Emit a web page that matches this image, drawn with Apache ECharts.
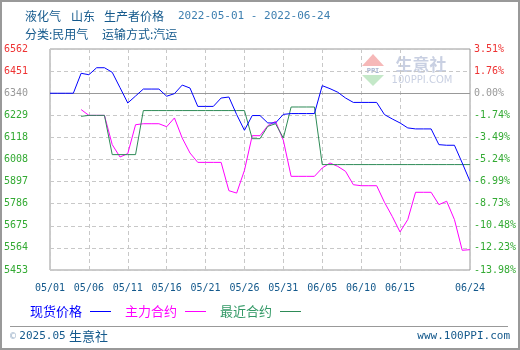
<!DOCTYPE html>
<html><head><meta charset="utf-8">
<script src="https://cdn.jsdelivr.net/npm/echarts@6/dist/echarts.min.js"></script>
<style>html,body{margin:0;padding:0;background:#fff}#c{width:520px;height:350px}</style>
</head><body><div id="c"></div>
<script>
const dates = ['05/01','05/02','05/03','05/04','05/05','05/06','05/07','05/08','05/09','05/10',
  '05/11','05/12','05/13','05/14','05/15','05/16','05/17','05/18','05/19','05/20',
  '05/21','05/22','05/23','05/24','05/25','05/26','05/27','05/28','05/29','05/30','05/31',
  '06/01','06/02','06/03','06/04','06/05','06/06','06/07','06/08','06/09','06/10',
  '06/11','06/12','06/13','06/14','06/15','06/16','06/17','06/18','06/19','06/20',
  '06/21','06/22','06/23','06/24'];
const spotPrice = [6340,6340,6340,6340,6440,6433,6468,6468,6445,6368,
  6291,6326,6361,6361,6361,6325,6338,6381,6366,6274,
  6274,6274,6316,6321,6233,6154,6228,6228,6191,6191,
  6234,6238,6238,6238,6238,6378,6363,6345,6316,6294,
  6294,6294,6294,6233,6211,6191,6166,6161,6161,6161,
  6082,6079,6079,5990,5898];
const mainContract = [null,null,null,null,6258,6229,6229,6229,6082,6020,
  6037,6182,6187,6187,6187,6172,6216,6115,6040,5993,
  5993,5993,5993,5851,5839,5953,6127,6127,6177,6199,
  6104,5923,5923,5923,5923,5965,5990,5973,5948,5881,
  5876,5876,5876,5793,5722,5644,5706,5843,5843,5843,
  5781,5798,5706,5552,5555];
const nearContract = [null,null,null,null,6224,6229,6229,6229,6032,6032,
  6032,6032,6253,6253,6253,6253,6253,6253,6253,6253,
  6253,6253,6253,6253,6253,6253,6112,6112,6174,6187,
  6115,6271,6271,6271,6271,5982,5982,5982,5982,5982,
  5982,5982,5982,5982,5982,5982,5982,5982,5982,5982,
  5982,5982,5982,5982,5982];
const xTickLabels = ['05/01','05/06','05/11','05/16','05/21','05/26','05/31','06/05','06/10','06/15','06/24'];
const yTickLabels = ['5453','5564','5675','5786','5897','6008','6118','6229','6340','6451','6562'];
const pctTickLabels = ['-13.98%','-12.23%','-10.48%','-8.73%','-6.99%','-5.24%','-3.49%','-1.74%','0.00%','1.76%','3.51%'];
const seriesNames = ['现货价格','主力合约','最近合约'];
const basePrice = 6340;
const yMin = 5453, yMax = 6562;

const C_BLUE = '#0000ff', C_PINK = '#ff00ff', C_GREEN = '#2e8b57';
const C_TEXT = '#14598c';
const MONO = '"DejaVu Sans Mono", monospace';
const CJK = '"Noto Sans CJK SC", sans-serif';

function tickColor(i) {
  const v = Number(yTickLabels[i]);
  if (v > basePrice) return '#ee3333';
  if (v === basePrice) return '#999999';
  return '#33aa33';
}
const showX = (idx, val) => xTickLabels.indexOf(dates[idx]) >= 0;

const chart = echarts.init(document.getElementById('c'), null, {renderer: 'canvas'});
const yCommon = {
  type: 'value', min: yMin, max: yMax, interval: (yMax - yMin) / 10,
  axisLine: {show: false}, axisTick: {show: false}
};
chart.setOption({
  animation: false,
  grid: {left: 50, top: 49, width: 420, height: 221, show: true, borderColor: '#999', borderWidth: 1, backgroundColor: 'transparent'},
  xAxis: {
    type: 'category', data: dates, boundaryGap: false,
    axisLine: {show: false}, axisTick: {show: false},
    axisLabel: {interval: showX, color: C_TEXT, fontFamily: MONO, fontSize: 10, margin: 13},
    splitLine: {show: true, interval: showX, lineStyle: {color: '#c8c8c8', type: [4, 3], width: 1}}
  },
  yAxis: [
    Object.assign({}, yCommon, {
      position: 'left',
      axisLabel: {formatter: (v, i) => yTickLabels[i], color: (v, i) => tickColor(i), fontFamily: MONO, fontSize: 10, margin: 22, align: 'right'},
      splitLine: {show: true, lineStyle: {color: '#c8c8c8', type: [4, 3], width: 1}}
    }),
    Object.assign({}, yCommon, {
      position: 'right',
      axisLabel: {formatter: (v, i) => pctTickLabels[i], color: (v, i) => tickColor(i), fontFamily: MONO, fontSize: 10, margin: 4, align: 'left'},
      splitLine: {show: false}
    })
  ],
  legend: {
    left: 25, top: 300, align: 'right', icon: 'rect', itemWidth: 21, itemHeight: 1, itemGap: 14,
    textStyle: {fontFamily: CJK, fontSize: 13, padding: [0, 3, 0, 0]},
    data: [
      {name: seriesNames[0], textStyle: {color: C_BLUE}},
      {name: seriesNames[1], textStyle: {color: C_PINK}},
      {name: seriesNames[2], textStyle: {color: '#339966'}}
    ]
  },
  series: [
    {name: seriesNames[1], type: 'line', data: mainContract, showSymbol: false, symbol: 'none', z: 2,
     color: C_PINK, lineStyle: {color: C_PINK, width: 1}},
    {name: seriesNames[2], type: 'line', data: nearContract, showSymbol: false, symbol: 'none', z: 3,
     color: C_GREEN, lineStyle: {color: C_GREEN, width: 1}},
    {name: seriesNames[0], type: 'line', data: spotPrice, showSymbol: false, symbol: 'none', z: 4,
     color: C_BLUE, lineStyle: {color: C_BLUE, width: 1},
     markLine: {silent: true, symbol: 'none', label: {show: false}, z: 1,
       lineStyle: {color: '#999', type: 'solid', width: 1}, data: [{yAxis: basePrice}]}}
  ],
  graphic: [
    {type: 'rect', shape: {x: 1, y: 1, width: 518, height: 348}, style: {fill: 'none', stroke: '#999', lineWidth: 2}, silent: true},
    {type: 'text', x: 25, y: 16, style: {text: '液化气', font: '12px ' + CJK, fill: C_TEXT, verticalAlign: 'middle'}},
    {type: 'text', x: 71, y: 16, style: {text: '山东', font: '12px ' + CJK, fill: C_TEXT, verticalAlign: 'middle'}},
    {type: 'text', x: 104, y: 16, style: {text: '生产者价格', font: '12px ' + CJK, fill: C_TEXT, verticalAlign: 'middle'}},
    {type: 'text', x: 178, y: 16, style: {text: '2022-05-01 - 2022-06-24', font: '11px ' + MONO, fill: '#3d7fb0', verticalAlign: 'middle'}},
    {type: 'text', x: 25, y: 34, style: {text: '分类:民用气', font: '12px ' + CJK, fill: C_TEXT, verticalAlign: 'middle'}},
    {type: 'text', x: 102, y: 34, style: {text: '运输方式:汽运', font: '12px ' + CJK, fill: C_TEXT, verticalAlign: 'middle'}},
    // watermark
    {type: 'polygon', shape: {points: [[373, 54], [362, 66], [384, 66]]}, style: {fill: '#f6b8b8'}, silent: true},
    {type: 'polygon', shape: {points: [[362, 75], [384, 75], [373, 86]]}, style: {fill: '#c4e8c8'}, silent: true},
    {type: 'text', x: 373, y: 71, style: {text: 'PPI', font: 'bold 7px ' + MONO, fill: '#a8b4d0', align: 'center', verticalAlign: 'middle'}, silent: true},
    {type: 'text', x: 421, y: 65, style: {text: '生意社', font: 'bold 17px ' + CJK, fill: '#c9d0e2', align: 'center', verticalAlign: 'middle'}, silent: true},
    {type: 'text', x: 422, y: 80, style: {text: '100PPI.COM', font: '10px "DejaVu Sans", sans-serif', fill: '#c9d0e2', align: 'center', verticalAlign: 'middle'}, silent: true},
    // footer
    {type: 'line', shape: {x1: 10, y1: 326.5, x2: 508, y2: 326.5}, style: {stroke: '#999', lineWidth: 1}, silent: true},
    {type: 'text', x: 10, y: 336, style: {
      text: '{a|©} {b|2025.05} {c|生意社}', verticalAlign: 'middle',
      rich: {a: {font: '10px ' + MONO, fill: '#9ab0c8'}, b: {font: '11px ' + MONO, fill: C_TEXT}, c: {font: '13px ' + CJK, fill: C_TEXT}}
    }},
    {type: 'text', x: 510, y: 336, style: {text: 'www.100PPI.com', font: '11px ' + MONO, fill: C_TEXT, align: 'right', verticalAlign: 'middle'}}
  ]
});
</script>
</body></html>
